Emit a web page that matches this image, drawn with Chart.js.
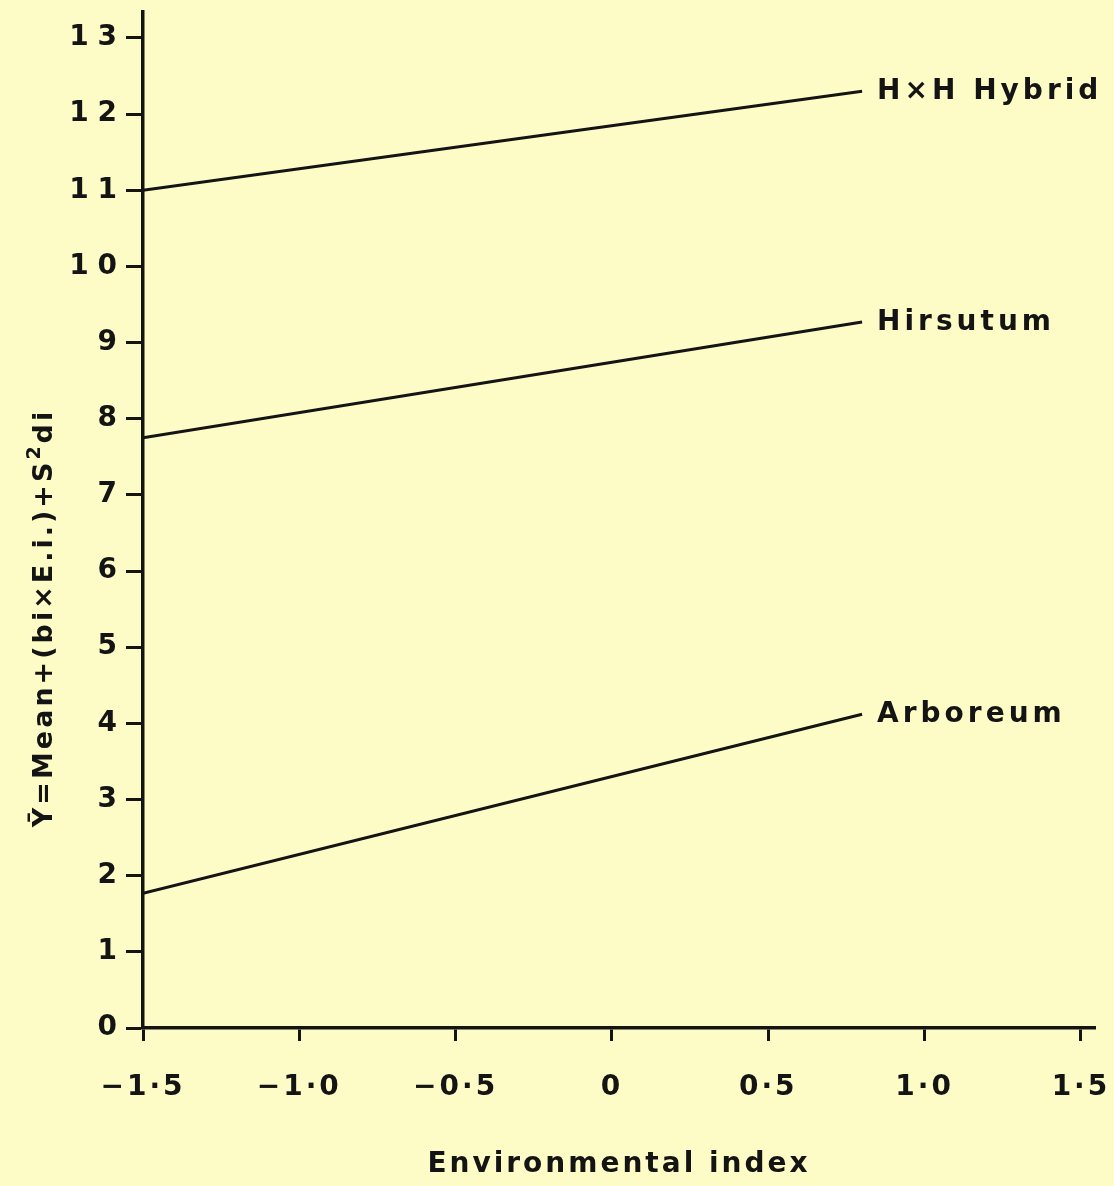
<!DOCTYPE html>
<html>
<head>
<meta charset="utf-8">
<script src="https://cdn.jsdelivr.net/npm/chart.js@4.4.1/dist/chart.umd.min.js"></script>
<style>
  html, body { margin: 0; padding: 0; background: #fdfcc6; }
  #c { display: block; background: #fdfcc6; }
</style>
</head>
<body>
<canvas id="c" width="1114" height="1186"></canvas>
<script>
// Environmental index at the two ends of each regression line
const envIndex = [-1.5, 0.8];
// Fitted response of each cotton group
const hybridY   = [11.0, 12.3];
const hirsutumY = [7.75, 9.27];
const arboreumY = [1.77, 4.12];
const seriesNames = ['H×H Hybrid', 'Hirsutum', 'Arboreum'];

// Axis ticks
const xTickValues = [-1.5, -1.0, -0.5, 0, 0.5, 1.0, 1.5];
const xTickLabels = ['−1·5', '−1·0', '−0·5', '0', '0·5', '1·0', '1·5'];
const yTickValues = [0, 1, 2, 3, 4, 5, 6, 7, 8, 9, 10, 11, 12, 13];
const yTickLabels = ['0', '1', '2', '3', '4', '5', '6', '7', '8', '9', '1\u200A0', '1\u200A1', '1\u200A2', '1\u200A3'];

const xTitle = 'Environmental index';
const yTitleParts = ['Ȳ=Mean+(bi×E.i.)+S', '2', 'di'];

const INK = '#141414';
const FONT = 'DejaVu Sans';

function pts(ys) { return envIndex.map((x, i) => ({ x: x, y: ys[i] })); }

// Letter spacing for all text drawn on the canvas
const spacingPlugin = {
  id: 'spacing',
  beforeDraw(chart) { chart.ctx.letterSpacing = '3px'; }
};

// Labels at the right end of each line, and the rotated y-axis title
const annotate = {
  id: 'annotate',
  afterDatasetsDraw(chart) {
    const ctx = chart.ctx;
    const xs = chart.scales.x, ys = chart.scales.y;
    ctx.save();
    ctx.fillStyle = INK;
    ctx.font = 'bold 28px "' + FONT + '"';
    ctx.letterSpacing = '4px';
    ctx.textBaseline = 'middle';
    ctx.textAlign = 'left';
    chart.data.datasets.forEach((ds, i) => {
      const last = ds.data[ds.data.length - 1];
      ctx.fillText(seriesNames[i], xs.getPixelForValue(last.x) + 15, ys.getPixelForValue(last.y) + 1);
    });

    // y-axis title with a superscript
    ctx.translate(45, 618);
    ctx.rotate(-Math.PI / 2);
    ctx.letterSpacing = '3px';
    const big = 'bold 27px "' + FONT + '"';
    const small = 'bold 19px "' + FONT + '"';
    ctx.font = big; const w0 = ctx.measureText(yTitleParts[0]).width;
    ctx.font = small; const w1 = ctx.measureText(yTitleParts[1]).width;
    ctx.font = big; const w2 = ctx.measureText(yTitleParts[2]).width;
    let x = -(w0 + w1 + w2) / 2;
    ctx.font = big; ctx.fillText(yTitleParts[0], x, 0); x += w0;
    ctx.font = small; ctx.fillText(yTitleParts[1], x, -10); x += w1;
    ctx.font = big; ctx.fillText(yTitleParts[2], x, 0);
    ctx.restore();
  }
};

const lineStyle = { borderColor: INK, borderWidth: 3, pointRadius: 0, fill: false, tension: 0 };

new Chart(document.getElementById('c'), {
  type: 'line',
  data: {
    datasets: [
      Object.assign({ label: seriesNames[0], data: pts(hybridY) }, lineStyle),
      Object.assign({ label: seriesNames[1], data: pts(hirsutumY) }, lineStyle),
      Object.assign({ label: seriesNames[2], data: pts(arboreumY) }, lineStyle)
    ]
  },
  options: {
    responsive: false,
    animation: false,
    devicePixelRatio: 1,
    layout: { padding: { top: 12, right: 19, left: 0, bottom: 0 } },
    plugins: { legend: { display: false }, tooltip: { enabled: false } },
    scales: {
      x: {
        type: 'linear',
        min: -1.5,
        max: 1.545,
        afterBuildTicks: s => { s.ticks = xTickValues.map(v => ({ value: v })); },
        afterFit: s => { s.height = 158; s.paddingLeft = 0; s.paddingRight = 0; },
        ticks: {
          autoSkip: false, maxRotation: 0, minRotation: 0,
          color: INK, padding: 30,
          font: { family: FONT, size: 28, weight: 'bold' },
          callback: v => xTickLabels[xTickValues.indexOf(v)]
        },
        grid: { drawOnChartArea: false, drawTicks: true, tickLength: 13, tickWidth: 3, tickColor: INK },
        border: { display: true, color: INK, width: 3.5 },
        title: {
          display: true, text: xTitle, color: INK,
          font: { family: FONT, size: 28, weight: 'bold' },
          padding: { top: 0, bottom: 4 }
        }
      },
      y: {
        type: 'linear',
        min: 0,
        max: 13.34,
        afterBuildTicks: s => { s.ticks = yTickValues.map(v => ({ value: v })); },
        afterFit: s => { s.width = 143; s.paddingTop = 0; s.paddingBottom = 0; },
        ticks: {
          color: INK, padding: 6,
          font: { family: FONT, size: 28, weight: 'bold' },
          callback: v => yTickLabels[yTickValues.indexOf(v)]
        },
        grid: { drawOnChartArea: false, drawTicks: true, tickLength: 17, tickWidth: 3, tickColor: INK },
        border: { display: true, color: INK, width: 3.5 }
      }
    }
  },
  plugins: [spacingPlugin, annotate]
});
</script>
</body>
</html>
